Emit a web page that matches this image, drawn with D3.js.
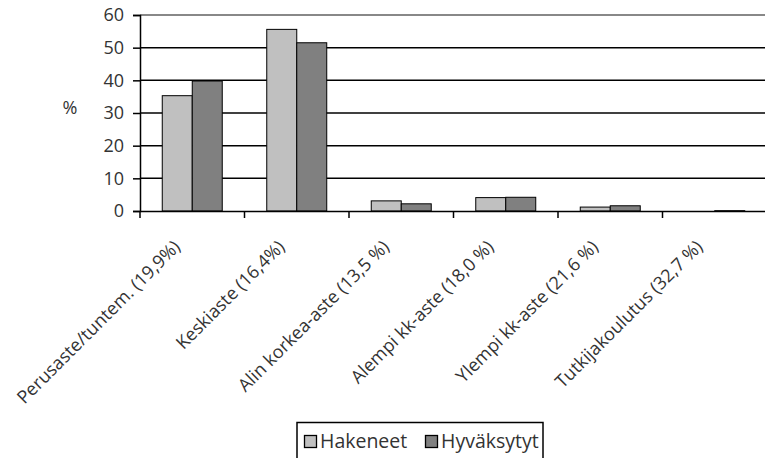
<!DOCTYPE html>
<html><head><meta charset="utf-8">
<script src="https://cdn.jsdelivr.net/npm/d3@7"></script>
<style>body{margin:0;background:#fff}svg{display:block}text{font-family:"Open Sans",sans-serif;fill:#333}</style>
</head><body><svg id="c" width="765" height="458"></svg>
<script>
const categories = ["Perusaste/tuntem. (19,9%)","Keskiaste (16,4%)","Alin korkea-aste (13,5 %)","Alempi kk-aste (18,0 %)","Ylempi kk-aste (21,6 %)","Tutkijakoulutus (32,7 %)"];
const seriesNames = ["Hakeneet","Hyväksytyt"];
const hakeneet = [35.3, 55.6, 3.1, 4.1, 1.2, 0];
const hyvaksytyt = [39.8, 51.5, 2.2, 4.2, 1.6, 0.1];
const yTicks = [0,10,20,30,40,50,60];
const colors = ["#c0c0c0","#808080"];

const svg = d3.select("#c");
const x0 = 140, x1 = 767, yTop = 15, yBot = 211;
const x = d3.scaleBand().domain(categories).range([x0, x1]).paddingInner(0).paddingOuter(0);
const xs = d3.scaleBand().domain(seriesNames).range([0, x.bandwidth()]).paddingInner(0).paddingOuter(0.742);
const y = d3.scaleLinear().domain([0,60]).range([yBot, yTop]);

// gridlines
svg.append("g").selectAll("line").data(yTicks.filter(t=>t>0)).join("line")
  .attr("x1", x0).attr("x2", 765).attr("y1", d=>y(d)).attr("y2", d=>y(d))
  .attr("stroke", d=> d===60 ? "#888" : "#000").attr("stroke-width", d=> d===60?2:1.5);

// bars
const data = [hakeneet, hyvaksytyt];
seriesNames.forEach((s,i)=>{
  svg.append("g").selectAll("rect").data(categories).join("rect")
    .attr("x", c=>x(c)+xs(s)).attr("width", xs.bandwidth())
    .attr("y", (c,j)=>y(data[i][j])).attr("height", (c,j)=>yBot - y(data[i][j]))
    .attr("fill", colors[i]).attr("stroke", "#000").attr("stroke-width", 1);
});

// y axis
const ya = svg.append("g").attr("transform", `translate(${x0},0)`)
  .call(d3.axisLeft(y).tickValues(yTicks).tickSize(7).tickPadding(9));
ya.select(".domain").attr("stroke","#000").attr("stroke-width",1.5);
ya.selectAll(".tick line").attr("stroke","#000").attr("stroke-width",1.5);
ya.selectAll("text").style("font-size","18px").style("font-family","'Open Sans',sans-serif").attr("fill","#333");

// x axis
const xa = svg.append("g").attr("transform", `translate(0,${yBot})`)
  .call(d3.axisBottom(x).tickSize(0).tickFormat(""));
xa.select(".domain").attr("stroke","#000").attr("stroke-width",1.5);
const bounds = categories.map(c=>x(c)).concat([x1]);
svg.append("g").selectAll("line").data(bounds).join("line")
  .attr("x1", d=>d).attr("x2", d=>d).attr("y1", yBot).attr("y2", yBot+7)
  .attr("stroke","#000").attr("stroke-width",1.5);

// x labels rotated
svg.append("g").selectAll("text").data(categories).join("text")
  .attr("transform", c=>`translate(${x(c)+x.bandwidth()/2-11},${yBot+37}) rotate(-45)`)
  .attr("text-anchor","end")
  .style("font-size","18px").text(c=>c);

// % label
svg.append("text").attr("x", 70).attr("y", 108).attr("text-anchor","middle").attr("dy","0.35em").style("font-size","18px").text("%");

// legend
const lg = svg.append("g");
lg.append("rect").attr("x",297).attr("y",422.5).attr("width",246).attr("height",40).attr("fill","#fff").attr("stroke","#000").attr("stroke-width",1.5);
const items = [{n:seriesNames[0], c:colors[0], x:304},{n:seriesNames[1], c:colors[1], x:425}];
items.forEach(it=>{
  lg.append("rect").attr("x",it.x+0.5).attr("y",435.5).attr("width",12).attr("height",12).attr("fill",it.c).attr("stroke","#000").attr("stroke-width",1.3);
  lg.append("text").attr("x",it.x+16).attr("y",448).style("font-size","19.5px").text(it.n);
});
</script></body></html>
